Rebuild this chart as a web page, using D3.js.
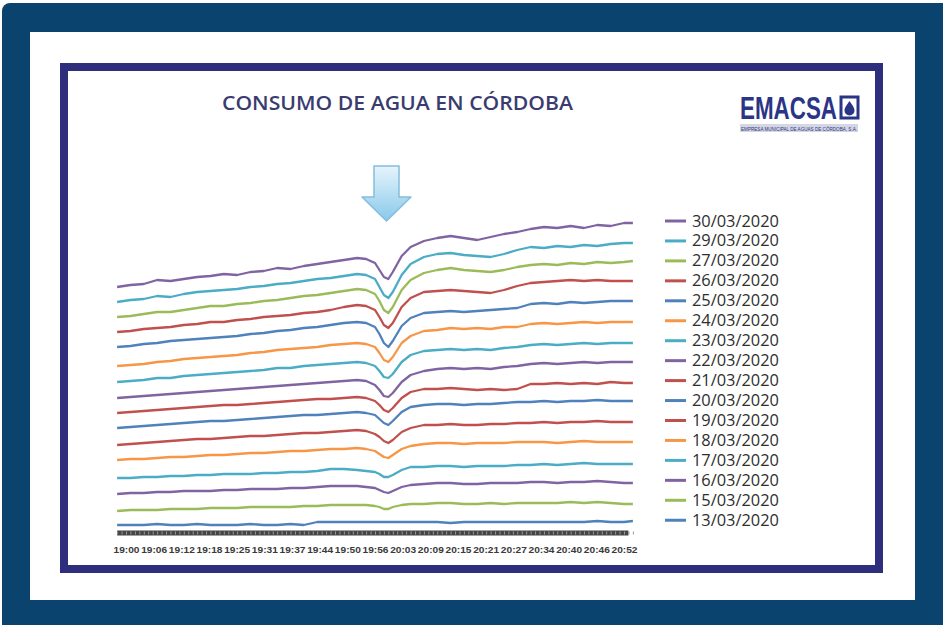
<!DOCTYPE html>
<html>
<head>
<meta charset="utf-8">
<script src="https://cdn.jsdelivr.net/npm/d3@7/dist/d3.min.js"></script>
<style>
  html, body { margin: 0; padding: 0; background: #ffffff; }
  svg { display: block; }
</style>
</head>
<body>
<svg id="chart" width="943" height="625"></svg>
<script>
// ---------------- DATA ----------------
const title = "CONSUMO DE AGUA EN CÓRDOBA";
const tickLabels = ["19:00","19:06","19:12","19:18","19:25","19:31","19:37","19:44","19:50","19:56",
                    "20:03","20:09","20:15","20:21","20:27","20:34","20:40","20:46","20:52"];
// sample times, minutes after 19:00
const minutes = [-2,1,4,7,10,13,16,19,22,25,28,31,34,37,40,43,46,49,52,54,
                 56,57,58,59,60,62,64,67,70,73,76,79,82,85,88,91,94,97,100,103,
                 106,109,112,114];
const dates = ["30/03/2020","29/03/2020","27/03/2020","26/03/2020","25/03/2020","24/03/2020",
               "23/03/2020","22/03/2020","21/03/2020","20/03/2020","19/03/2020","18/03/2020",
               "17/03/2020","16/03/2020","15/03/2020","13/03/2020"];
const colors = ["#8064A2","#4BACC6","#9BBB59","#C0504D","#4F81BD","#F79646",
                "#4BACC6","#8064A2","#C0504D","#4F81BD","#C0504D","#F79646",
                "#4BACC6","#8064A2","#9BBB59","#4F81BD"];
const v3003 = [253,255,256,260,259,261,263,264,266,265,268,269,272,271,274,276,278,280,282,281,
               277,270,263,261,268,284,293,299,302,304,302,300,303,306,308,311,313,312,314,312,
               315,314,317,317];
const v2903 = [238,240,241,244,243,246,248,249,250,251,253,254,256,257,259,261,262,264,266,265,
               261,253,245,242,248,265,276,283,286,287,285,284,283,286,290,293,292,294,293,295,
               294,296,297,297];
const v2703 = [223,224,226,228,228,230,232,234,234,236,237,239,240,242,244,245,247,249,251,250,
               246,239,230,227,233,250,260,267,270,272,270,269,268,270,273,275,276,275,277,276,
               278,277,278,279];
const v2603 = [208,209,211,212,213,215,216,218,218,220,221,223,224,225,227,228,230,233,235,234,
               230,223,215,212,217,233,242,248,249,250,249,248,247,250,254,257,258,259,260,259,
               260,259,259,259];
const v2503 = [193,194,196,197,199,200,201,202,203,204,206,207,209,210,212,213,215,217,218,217,
               213,206,197,193,199,214,222,227,228,229,228,229,230,231,232,236,237,236,238,237,
               238,239,239,239];
const v2403 = [174,175,176,178,179,181,182,183,184,185,187,188,190,191,192,193,195,196,197,196,
               193,187,180,178,183,197,204,209,210,212,211,212,211,213,213,216,217,216,217,218,
               217,218,218,218];
const v2303 = [158,159,160,162,162,164,165,166,167,168,169,170,172,172,174,175,176,177,178,177,
               174,169,163,162,166,178,185,189,190,191,190,191,190,192,193,195,196,195,196,197,
               196,197,197,197];
const v2203 = [142,143,144,145,146,147,148,149,150,151,152,153,154,155,156,157,158,159,160,159,
               155,150,144,143,147,158,165,169,171,172,171,172,171,173,174,176,177,176,177,178,
               177,178,178,178];
const v2103 = [127,128,129,130,131,132,133,134,135,135,136,137,138,139,140,141,141,142,143,142,
               139,135,130,128,132,142,148,151,151,152,151,150,151,150,151,156,156,157,156,157,
               156,158,157,157];
const v2003 = [112,113,114,115,116,117,118,119,119,120,121,122,123,124,125,125,126,127,128,127,
               125,121,117,115,119,128,133,135,136,136,135,136,136,137,138,138,139,138,139,139,
               140,139,139,139];
const v1903 = [95,96,97,98,99,100,101,101,102,103,104,104,105,106,107,107,108,109,110,109,
               106,103,99,97,100,108,112,115,115,116,115,115,116,116,117,117,118,117,118,118,
               119,118,118,118];
const v1803 = [80,81,81,82,83,83,84,85,85,86,87,87,88,89,89,90,91,91,92,91,
               89,86,83,82,85,91,94,96,97,97,96,97,97,97,98,98,98,97,98,99,
               98,98,98,98];
const v1703 = [62,62,63,63,64,64,65,65,66,66,66,67,67,68,68,69,71,71,70,69,
               68,66,63,63,65,70,73,73,74,74,73,74,74,74,75,75,76,75,76,77,
               76,76,76,76];
const v1603 = [46,47,47,48,48,49,49,49,50,50,51,51,51,52,52,53,54,54,54,53,
               52,50,48,47,49,53,55,56,57,57,56,56,57,57,57,58,58,57,58,58,
               59,58,57,57];
const v1503 = [29,30,30,30,31,31,31,32,32,32,33,33,33,33,34,34,35,35,35,35,
               34,33,31,31,33,35,36,36,37,37,36,36,37,36,37,37,37,37,38,37,
               38,37,36,36];
const v1303 = [15,15,15,16,15,15,16,15,15,15,16,15,15,16,15,18,18,18,18,18,
               18,18,18,18,18,18,18,18,18,17,18,18,18,18,18,18,18,18,18,18,
               19,18,18,19];
const seriesValues = [v3003,v2903,v2703,v2603,v2503,v2403,v2303,v2203,v2103,v2003,v1903,v1803,v1703,v1603,v1503,v1303];

// ---------------- DRAW ----------------
const svg = d3.select("#chart");

// outer dark card
svg.append("rect").attr("x", 2).attr("y", 3).attr("width", 950).attr("height", 630)
   .attr("rx", 8).attr("fill", "#0A446E");
svg.append("rect").attr("x", 30).attr("y", 32).attr("width", 885).attr("height", 568)
   .attr("fill", "#ffffff");
// inner navy frame
svg.append("rect").attr("x", 64).attr("y", 67).attr("width", 815).attr("height", 502)
   .attr("fill", "#ffffff").attr("stroke", "#2D2F7C").attr("stroke-width", 8);

// title
svg.append("text").attr("x", 222).attr("y", 110)
   .attr("font-family", "Open Sans, sans-serif").attr("font-size", 20).attr("font-weight", 600)
   .attr("fill", "#3A3C70").attr("textLength", 351).attr("lengthAdjust", "spacingAndGlyphs")
   .text(title);

// logo
const logo = svg.append("g");
logo.append("text").attr("x", 740).attr("y", 119)
   .attr("font-family", "Liberation Sans Narrow, Liberation Sans, sans-serif")
   .attr("font-weight", "bold").attr("font-size", 31).attr("fill", "#2B3585")
   .attr("textLength", 97).attr("lengthAdjust", "spacingAndGlyphs").text("EMACSA");
logo.append("rect").attr("x", 841).attr("y", 97).attr("width", 17).attr("height", 21)
   .attr("fill", "none").attr("stroke", "#2B3585").attr("stroke-width", 3);
logo.append("path").attr("d", "M849.5,101 C846,106 844.5,108 844.5,110.5 A5,5 0 0 0 854.5,110.5 C854.5,108 853,106 849.5,101 Z")
   .attr("fill", "#2B3585");
logo.append("rect").attr("x", 740).attr("y", 124).attr("width", 118).attr("height", 8)
   .attr("fill", "#D4D6E2");
logo.append("text").attr("x", 741).attr("y", 130.5)
   .attr("font-family", "Liberation Sans Narrow, sans-serif").attr("font-size", 6)
   .attr("fill", "#2B3585").attr("textLength", 116).attr("lengthAdjust", "spacingAndGlyphs")
   .text("EMPRESA MUNICIPAL DE AGUAS DE CÓRDOBA, S.A.");

// arrow
const defs = svg.append("defs");
const grad = defs.append("linearGradient").attr("id", "arrowGrad")
   .attr("x1", 0).attr("y1", 0).attr("x2", 0).attr("y2", 1);
grad.append("stop").attr("offset", "0%").attr("stop-color", "#E6F4FC");
grad.append("stop").attr("offset", "100%").attr("stop-color", "#88C9EA");
svg.append("path")
   .attr("d", "M374,166 L399,166 L399,197 L411,197 L386.5,221 L362,197 L374,197 Z")
   .attr("fill", "url(#arrowGrad)").attr("stroke", "#84BEDD").attr("stroke-width", 1.5)
   .attr("stroke-linejoin", "round");

// scales
const x = d3.scaleLinear().domain([0, 112]).range([126, 624]);
const y = d3.scaleLinear().domain([0, 330]).range([540, 210]);
const xLab = d3.scalePoint().domain(tickLabels).range([126, 624]);

// x axis band
const axisTicks = d3.range(-2, 115, 1);
const axisG = svg.append("g").attr("transform", "translate(0,533)");
axisG.append("line").attr("x1", x(-2)).attr("x2", x(113)).attr("y1", 0).attr("y2", 0)
   .attr("stroke", "#454545").attr("stroke-width", 5);
axisG.call(d3.axisBottom(x).tickValues(axisTicks).tickSize(2).tickSizeOuter(0).tickFormat(""))
   .call(g => g.select(".domain").remove())
   .call(g => g.selectAll(".tick line").attr("stroke", "#9A9A9A").attr("stroke-width", 1)
         .attr("y1", -1.5).attr("y2", 1.5));
// x labels (evenly spaced categories)
const labelG = svg.append("g").attr("transform", "translate(0,553)");
labelG.call(d3.axisBottom(xLab).tickSize(0))
   .call(g => g.select(".domain").remove())
   .call(g => g.selectAll("text").attr("y", 0).attr("dy", 0)
         .attr("font-family", "Liberation Sans Narrow, Liberation Sans, sans-serif")
         .attr("font-weight", "bold").attr("font-size", 9.5).attr("fill", "#3A3A3A")
         .attr("textLength", 26).attr("lengthAdjust", "spacingAndGlyphs"));

// lines
const line = d3.line().x((d, i) => x(minutes[i])).y(d => y(d));
svg.append("g").selectAll("path").data(seriesValues).join("path")
   .attr("d", d => line(d)).attr("fill", "none")
   .attr("stroke", (d, i) => colors[i]).attr("stroke-width", 2.3)
   .attr("stroke-linejoin", "round");

// legend
const legend = svg.append("g").selectAll("g").data(dates).join("g")
   .attr("transform", (d, i) => `translate(0,${221 + i * 19.95})`);
legend.append("line").attr("x1", 665).attr("x2", 686).attr("y1", 0).attr("y2", 0)
   .attr("stroke", (d, i) => colors[i]).attr("stroke-width", 3);
legend.append("text").attr("x", 692).attr("y", 5.5)
   .attr("font-family", "Open Sans, sans-serif").attr("font-size", 15.5)
   .attr("fill", "#2E2E2E").attr("textLength", 87).attr("lengthAdjust", "spacingAndGlyphs")
   .text(d => d);
</script>
</body>
</html>
